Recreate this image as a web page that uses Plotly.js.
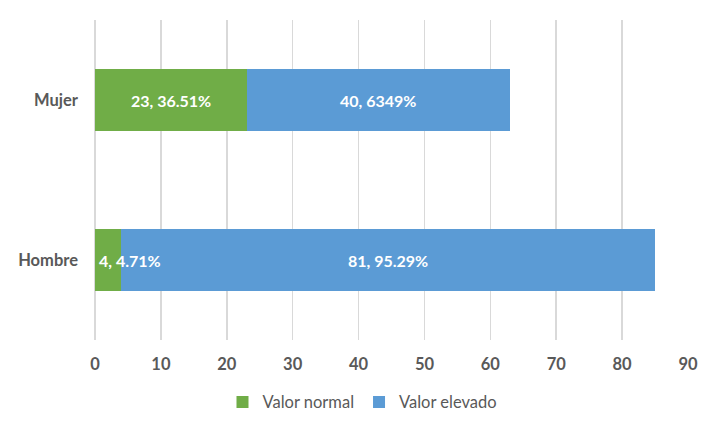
<!DOCTYPE html>
<html>
<head>
<meta charset="utf-8">
<script src="https://cdn.plot.ly/plotly-3.0.1.min.js"></script>
<style>html,body{margin:0;padding:0;background:#fff;}#chart{width:720px;height:432px;}</style>
</head>
<body>
<div id="chart"></div>
<script>
const categories = ["Hombre", "Mujer"];
const seriesNames = ["Valor normal", "Valor elevado"];
const valorNormal = [4, 23];
const valorElevado = [81, 40];
const labelsNormal = ["4, 4.71%", "23, 36.51%"];
const labelsElevado = ["81, 95.29%", "40, 6349%"];
const xTicks = [0, 10, 20, 30, 40, 50, 60, 70, 80, 90];

const colors = ["#70AD47", "#5B9BD5"];
const fontFam = "Lato, 'Open Sans', sans-serif";

const traces = [
  {type: "bar", orientation: "h", name: seriesNames[0], y: categories, x: valorNormal,
   marker: {color: colors[0]}, width: 0.39, hoverinfo: "skip"},
  {type: "bar", orientation: "h", name: seriesNames[1], y: categories, x: valorElevado,
   marker: {color: colors[1]}, width: 0.39, hoverinfo: "skip"}
];

const annotations = [];
categories.forEach((c, i) => {
  const segs = [[valorNormal[i], labelsNormal[i]], [valorElevado[i], labelsElevado[i]]];
  let base = 0;
  segs.forEach(([v, t]) => {
    const small = v < 8;
    annotations.push({
      x: small ? base : base + v / 2, y: c, xref: "x", yref: "y",
      text: "<b>" + t + "</b>", showarrow: false,
      xanchor: small ? "left" : "center", xshift: small ? 2 : 0,
      font: {family: fontFam, size: 16, color: "#FFFFFF"}
    });
    base += v;
  });
});

const layout = {
  width: 720, height: 432,
  margin: {l: 95, r: 32, t: 20, b: 92},
  paper_bgcolor: "#FFFFFF", plot_bgcolor: "#FFFFFF",
  barmode: "stack",
  showlegend: true,
  legend: {orientation: "h", x: 0.215, xanchor: "left", y: -0.14, yanchor: "top",
    font: {family: fontFam, size: 16.5, color: "#595959"}, traceorder: "normal",
    itemwidth: 30},
  xaxis: {range: [0, 90], tickvals: xTicks, showgrid: true, gridcolor: "#D9D9D9", gridwidth: 1.5,
    zeroline: true, zerolinecolor: "#D9D9D9", zerolinewidth: 1.5,
    showline: false, ticks: "", fixedrange: true,
    ticklabelstandoff: 12,
    tickfont: {family: fontFam, size: 16.5, color: "#595959", weight: "bold"}},
  yaxis: {showgrid: false, zeroline: false, showline: false, ticks: "",
    ticklabelstandoff: 16, range: [-0.5, 1.5],
    tickfont: {family: fontFam, size: 16.5, color: "#595959", weight: "bold"}},
  annotations: annotations
};

Plotly.newPlot("chart", traces, layout, {displayModeBar: false, staticPlot: true});
</script>
</body>
</html>
